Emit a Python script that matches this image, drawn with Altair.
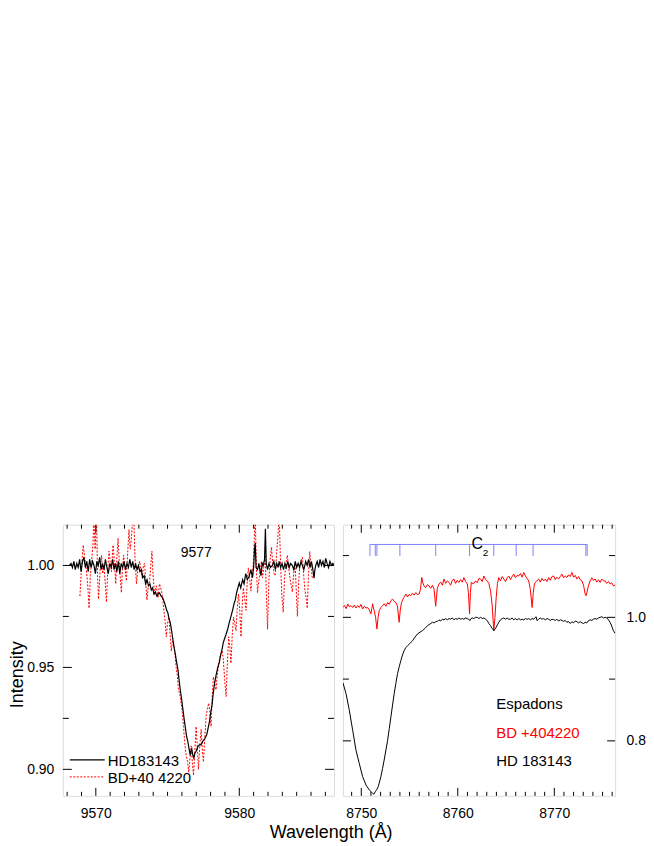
import altair as alt
import pandas as pd

FONT = "Liberation Sans"

# ---------------- Left panel: 9577 DIB ----------------
hd_l_wl = [9568.17, 9568.27, 9568.37, 9568.47, 9568.57, 9568.67, 9568.77, 9568.87, 9568.97, 9569.07,
           9569.17, 9569.27, 9569.37, 9569.47, 9569.57, 9569.67, 9569.77, 9569.87, 9569.97, 9570.07,
           9570.17, 9570.27, 9570.37, 9570.47, 9570.57, 9570.67, 9570.77, 9570.87, 9570.97, 9571.07,
           9571.17, 9571.27, 9571.37, 9571.47, 9571.57, 9571.67, 9571.77, 9571.87, 9571.97, 9572.07,
           9572.17, 9572.27, 9572.37, 9572.47, 9572.57, 9572.67, 9572.77, 9572.87, 9572.97, 9573.07,
           9573.17, 9573.27, 9573.37, 9573.47, 9573.57, 9573.67, 9573.77, 9573.87, 9573.96, 9574.05,
           9574.15, 9574.25, 9574.35, 9574.44, 9574.55, 9574.67, 9574.77, 9574.86, 9574.94, 9575.02,
           9575.10, 9575.19, 9575.28, 9575.37, 9575.45, 9575.53, 9575.62, 9575.72, 9575.80, 9575.88,
           9575.97, 9576.06, 9576.15, 9576.25, 9576.33, 9576.41, 9576.50, 9576.58, 9576.63, 9576.69,
           9576.76, 9576.83, 9576.91, 9576.99, 9577.10, 9577.22, 9577.33, 9577.45, 9577.59, 9577.73,
           9577.82, 9577.92, 9578.01, 9578.10, 9578.18, 9578.26, 9578.38, 9578.50, 9578.61, 9578.70,
           9578.80, 9578.88, 9578.96, 9579.07, 9579.19, 9579.30, 9579.42, 9579.53, 9579.65, 9579.72,
           9579.81, 9579.90, 9580.00, 9580.10, 9580.23, 9580.33, 9580.45, 9580.56, 9580.69, 9580.81,
           9580.92, 9581.00, 9581.06, 9581.11, 9581.17, 9581.27, 9581.37, 9581.45, 9581.51, 9581.60,
           9581.67, 9581.76, 9581.82, 9581.88, 9581.97, 9582.07, 9582.17, 9582.31, 9582.41, 9582.51,
           9582.61, 9582.71, 9582.78, 9582.88, 9582.98, 9583.08, 9583.18, 9583.28, 9583.38, 9583.48,
           9583.58, 9583.70, 9583.80, 9583.90, 9584.00, 9584.10, 9584.20, 9584.30, 9584.40, 9584.50,
           9584.63, 9584.73, 9584.83, 9584.93, 9585.03, 9585.13, 9585.21, 9585.27, 9585.33, 9585.43,
           9585.53, 9585.63, 9585.73, 9585.83, 9585.93, 9586.02, 9586.12, 9586.22, 9586.32, 9586.42,
           9586.52, 9586.60]
hd_l_i = [1.000, 1.001, 0.999, 1.002, 0.998, 1.001, 0.999, 1.003, 0.997, 1.002,
          1.004, 0.999, 1.002, 0.997, 1.003, 0.999, 1.002, 1.000, 0.996, 1.002,
          1.000, 1.004, 0.998, 1.001, 0.998, 1.003, 0.999, 0.996, 1.001, 0.999,
          1.003, 0.998, 1.001, 0.997, 1.002, 0.996, 1.001, 0.999, 1.002, 0.998,
          1.001, 0.999, 1.003, 0.999, 1.002, 0.998, 1.001, 0.998, 1.000, 0.997,
          0.998, 0.994, 0.995, 0.991, 0.993, 0.990, 0.991, 0.988, 0.989, 0.986,
          0.987, 0.985, 0.986, 0.9865, 0.985, 0.984, 0.982, 0.980, 0.978, 0.9768,
          0.974, 0.972, 0.968, 0.9638, 0.960, 0.957, 0.953, 0.949, 0.944, 0.9393,
          0.935, 0.930, 0.925, 0.920, 0.916, 0.9137, 0.910, 0.907, 0.909, 0.910,
          0.907, 0.9056, 0.908, 0.9089, 0.911, 0.912, 0.912, 0.9137, 0.915, 0.917,
          0.920, 0.9234, 0.928, 0.9316, 0.937, 0.9413, 0.9461, 0.950, 0.9526, 0.956,
          0.959, 0.962, 0.9638, 0.966, 0.9687, 0.972, 0.975, 0.978, 0.9816, 0.983,
          0.9865, 0.989, 0.9914, 0.989, 0.993, 0.991, 0.996, 0.993, 0.9947, 0.998,
          0.994, 0.999, 1.008, 1.011, 0.999, 0.998, 1.001, 0.997, 0.995, 1.001,
          1.000, 1.003, 1.018, 1.001, 0.998, 1.001, 0.999, 1.000, 1.002, 0.998,
          1.001, 0.999, 1.002, 0.999, 1.001, 0.998, 1.001, 0.999, 1.002, 0.999,
          1.001, 1.000, 0.998, 1.002, 0.999, 1.001, 0.999, 1.002, 1.000, 0.998,
          1.002, 1.000, 1.003, 0.999, 1.002, 0.998, 0.9938, 0.998, 1.000, 1.002,
          0.999, 1.003, 1.000, 1.002, 0.999, 1.0035, 1.001, 0.999, 1.002, 1.000,
          1.001, 1.000]

bd_l_wl = [9568.89, 9569.01, 9569.12, 9569.22, 9569.31, 9569.42, 9569.53, 9569.62, 9569.70, 9569.80,
           9569.86, 9569.95, 9570.05, 9570.12, 9570.19, 9570.30, 9570.40, 9570.48, 9570.56, 9570.65,
           9570.74, 9570.83, 9570.92, 9571.00, 9571.09, 9571.20, 9571.30, 9571.39, 9571.47, 9571.55,
           9571.66, 9571.78, 9571.86, 9571.94, 9572.03, 9572.13, 9572.22, 9572.31, 9572.40, 9572.48,
           9572.56, 9572.64, 9572.73, 9572.83, 9572.94, 9573.06, 9573.15, 9573.24, 9573.32, 9573.40,
           9573.48, 9573.56, 9573.66, 9573.75, 9573.83, 9573.91, 9574.00, 9574.10, 9574.22, 9574.33,
           9574.44, 9574.56, 9574.64, 9574.72, 9574.81, 9574.91, 9575.00, 9575.09, 9575.18, 9575.26,
           9575.34, 9575.42, 9575.51, 9575.60, 9575.68, 9575.76, 9575.85, 9575.95, 9576.03, 9576.11,
           9576.20, 9576.30, 9576.39, 9576.48, 9576.57, 9576.65, 9576.73, 9576.81, 9576.90, 9576.99,
           9577.07, 9577.15, 9577.25, 9577.34, 9577.42, 9577.50, 9577.60, 9577.69, 9577.78, 9577.87,
           9577.95, 9578.03, 9578.11, 9578.19, 9578.29, 9578.38, 9578.46, 9578.54, 9578.64, 9578.73,
           9578.81, 9578.89, 9578.98, 9579.08, 9579.17, 9579.26, 9579.34, 9579.42, 9579.51, 9579.60,
           9579.68, 9579.77, 9579.86, 9579.95, 9580.03, 9580.12, 9580.20, 9580.28, 9580.37, 9580.47,
           9580.55, 9580.63, 9580.72, 9580.81, 9580.89, 9580.97, 9581.04, 9581.11, 9581.19, 9581.27,
           9581.37, 9581.46, 9581.54, 9581.62, 9581.71, 9581.81, 9581.89, 9581.97, 9582.06, 9582.15,
           9582.24, 9582.33, 9582.42, 9582.50, 9582.60, 9582.70, 9582.78, 9582.88, 9582.97, 9583.06,
           9583.15, 9583.25, 9583.35, 9583.44, 9583.53, 9583.62, 9583.70, 9583.79, 9583.89, 9583.97,
           9584.05, 9584.14, 9584.22, 9584.31, 9584.40, 9584.48, 9584.57, 9584.66, 9584.74, 9584.82,
           9584.91, 9585.00, 9585.09]
bd_l_i = [0.985, 1.000, 1.010, 1.004, 1.000, 0.992, 0.979, 0.995, 1.002, 1.010,
          1.025, 1.008, 1.025, 0.995, 0.9835, 0.998, 1.005, 0.996, 1.000, 0.992,
          0.982, 0.998, 1.007, 1.002, 0.997, 1.010, 1.001, 0.991, 1.004, 1.0134,
          0.998, 0.9867, 0.999, 1.005, 0.999, 0.9924, 1.006, 1.0176, 1.008, 1.013,
          1.022, 1.025, 1.004, 0.991, 0.999, 1.002, 0.997, 0.994, 1.000, 1.001,
          0.992, 0.983, 0.990, 0.992, 1.000, 1.007, 0.994, 0.9857, 0.990, 0.984,
          0.991, 0.988, 0.985, 0.9794, 0.974, 0.965, 0.972, 0.9746, 0.966, 0.958,
          0.963, 0.9617, 0.957, 0.950, 0.946, 0.939, 0.937, 0.9325, 0.928, 0.921,
          0.913, 0.9066, 0.904, 0.8985, 0.906, 0.9115, 0.903, 0.897, 0.909, 0.921,
          0.912, 0.900, 0.912, 0.9196, 0.910, 0.9036, 0.916, 0.926, 0.930, 0.9325,
          0.928, 0.921, 0.935, 0.9454, 0.942, 0.939, 0.946, 0.950, 0.955, 0.9568,
          0.958, 0.9535, 0.944, 0.9357, 0.952, 0.965, 0.960, 0.952, 0.966, 0.9746,
          0.972, 0.968, 0.979, 0.986, 0.978, 0.965, 0.980, 0.989, 0.984, 0.978,
          0.992, 0.9988, 0.994, 0.9875, 0.996, 1.000, 1.012, 1.025, 0.999, 0.9866,
          0.993, 0.997, 1.002, 0.994, 0.999, 1.005, 0.985, 0.9687, 0.992, 1.003,
          1.009, 1.001, 0.996, 0.995, 1.006, 1.015, 1.025, 1.000, 0.985, 0.977,
          0.993, 1.001, 1.005, 0.999, 0.994, 0.990, 0.987, 0.996, 1.001, 0.988,
          0.975, 0.992, 1.000, 1.002, 1.004, 0.996, 0.988, 0.984, 0.979, 0.995,
          1.0068, 1.000, 0.9938]

# ---------------- Right panel: Espadons, 8750-8776 A ----------------
hd_r_wl = [8748.10, 8748.42, 8748.76, 8749.11, 8749.45, 8749.79, 8750.14, 8750.49, 8750.83, 8751.18,
           8751.30, 8751.45, 8751.60, 8751.76, 8752.03, 8752.20, 8752.37, 8752.55, 8752.73, 8752.90,
           8753.07, 8753.24, 8753.41, 8753.58, 8753.76, 8753.93, 8754.10, 8754.27, 8754.44, 8754.61,
           8754.79, 8755.05, 8755.31, 8755.56, 8755.82, 8756.08, 8756.34, 8756.60, 8756.86, 8757.11,
           8757.37, 8757.54, 8757.71, 8757.89, 8758.05, 8758.23, 8758.40, 8758.57, 8758.75, 8758.92,
           8759.09, 8759.26, 8759.43, 8759.60, 8759.78, 8759.95, 8760.12, 8760.29, 8760.46, 8760.63,
           8760.80, 8760.97, 8761.13, 8761.25, 8761.37, 8761.50, 8761.67, 8761.84, 8762.02, 8762.19,
           8762.36, 8762.53, 8762.70, 8762.88, 8763.05, 8763.22, 8763.39, 8763.56, 8763.73, 8763.85,
           8763.98, 8764.11, 8764.25, 8764.42, 8764.60, 8764.77, 8764.94, 8765.11, 8765.28, 8765.46,
           8765.63, 8765.80, 8765.97, 8766.15, 8766.32, 8766.49, 8766.66, 8766.83, 8767.00, 8767.18,
           8767.35, 8767.52, 8767.70, 8767.87, 8768.04, 8768.12, 8768.21, 8768.38, 8768.55, 8768.72,
           8768.90, 8769.07, 8769.24, 8769.41, 8769.58, 8769.76, 8769.93, 8770.10, 8770.27, 8770.44,
           8770.62, 8770.79, 8770.96, 8771.13, 8771.30, 8771.48, 8771.65, 8771.82, 8771.99, 8772.17,
           8772.34, 8772.51, 8772.68, 8772.86, 8773.03, 8773.20, 8773.37, 8773.54, 8773.71, 8773.89,
           8774.06, 8774.23, 8774.40, 8774.58, 8774.75, 8774.93, 8775.10, 8775.27, 8775.44, 8775.61,
           8775.78, 8775.95, 8776.12, 8776.30]
hd_r_i = [0.894, 0.8765, 0.8495, 0.817, 0.785, 0.7635, 0.742, 0.7285, 0.7205, 0.7152,
          0.7135, 0.7177, 0.721, 0.726, 0.742, 0.755, 0.769, 0.785, 0.801, 0.820,
          0.839, 0.858, 0.8765, 0.893, 0.909, 0.920, 0.930, 0.939, 0.946, 0.951,
          0.954, 0.958, 0.962, 0.968, 0.973, 0.976, 0.9785, 0.982, 0.9866, 0.989,
          0.992, 0.991, 0.993, 0.9935, 0.996, 0.994, 0.997, 0.9958, 0.998, 0.996,
          0.998, 0.997, 0.999, 0.996, 0.998, 0.9968, 0.999, 0.997, 0.998, 0.997,
          0.999, 0.998, 0.997, 0.9947, 0.998, 0.999, 0.998, 1.000, 1.000, 0.998,
          1.000, 0.998, 0.999, 0.997, 0.9947, 0.990, 0.9866, 0.982, 0.9785, 0.981,
          0.984, 0.988, 0.992, 0.996, 0.998, 0.999, 0.997, 0.999, 0.997, 0.997,
          0.999, 0.996, 0.998, 0.9958, 0.998, 0.996, 0.997, 0.9958, 0.998, 0.9968,
          0.998, 0.996, 0.998, 0.997, 1.000, 1.001, 0.9947, 0.997, 0.999, 0.997,
          0.998, 0.996, 0.998, 0.997, 0.995, 0.997, 0.9963, 0.995, 0.997, 0.994,
          0.996, 0.995, 0.9935, 0.995, 0.992, 0.993, 0.990, 0.993, 0.991, 0.994,
          0.993, 0.991, 0.993, 0.991, 0.990, 0.992, 0.991, 0.9947, 0.996, 0.995,
          0.997, 0.998, 0.997, 0.999, 1.000, 1.001, 0.999, 1.000, 0.999, 0.996,
          0.992, 0.986, 0.9785, 0.974]

bd_r_wl = [8748.10, 8748.26, 8748.43, 8748.60, 8748.77, 8748.94, 8749.11, 8749.28, 8749.45, 8749.63,
           8749.80, 8749.97, 8750.14, 8750.31, 8750.49, 8750.66, 8750.83, 8751.00, 8751.09, 8751.18,
           8751.26, 8751.34, 8751.48, 8751.62, 8751.74, 8751.86, 8752.03, 8752.21, 8752.38, 8752.55,
           8752.73, 8752.90, 8753.07, 8753.24, 8753.41, 8753.58, 8753.75, 8753.92, 8754.04, 8754.17,
           8754.34, 8754.48, 8754.62, 8754.79, 8754.96, 8755.13, 8755.30, 8755.47, 8755.65, 8755.82,
           8755.99, 8756.13, 8756.27, 8756.38, 8756.50, 8756.67, 8756.85, 8757.02, 8757.19, 8757.37,
           8757.54, 8757.71, 8757.88, 8758.05, 8758.22, 8758.40, 8758.57, 8758.74, 8758.92, 8759.09,
           8759.26, 8759.43, 8759.60, 8759.77, 8759.95, 8760.12, 8760.29, 8760.46, 8760.63, 8760.81,
           8760.99, 8761.10, 8761.22, 8761.31, 8761.40, 8761.62, 8761.84, 8762.02, 8762.19, 8762.36,
           8762.53, 8762.70, 8762.88, 8763.05, 8763.22, 8763.39, 8763.56, 8763.73, 8763.85, 8763.98,
           8764.11, 8764.25, 8764.42, 8764.60, 8764.77, 8764.94, 8765.11, 8765.28, 8765.46, 8765.63,
           8765.80, 8765.97, 8766.15, 8766.31, 8766.49, 8766.66, 8766.83, 8767.01, 8767.18, 8767.35,
           8767.52, 8767.70, 8767.82, 8767.94, 8768.11, 8768.38, 8768.55, 8768.72, 8768.90, 8769.07,
           8769.24, 8769.41, 8769.58, 8769.76, 8769.93, 8770.10, 8770.27, 8770.44, 8770.62, 8770.79,
           8770.96, 8771.13, 8771.31, 8771.48, 8771.65, 8771.83, 8772.00, 8772.17, 8772.34, 8772.51,
           8772.68, 8772.86, 8773.03, 8773.20, 8773.29, 8773.38, 8773.55, 8773.72, 8773.89, 8774.06,
           8774.23, 8774.40, 8774.58, 8774.75, 8774.92, 8775.10, 8775.27, 8775.44, 8775.61, 8775.78,
           8775.95, 8776.12, 8776.30]
bd_r_i = [1.016, 1.019, 1.014, 1.0216, 1.017, 1.019, 1.016, 1.020, 1.015, 1.019,
          1.016, 1.021, 1.0135, 1.018, 1.015, 1.016, 1.012, 1.0055, 1.014, 1.022,
          1.015, 1.011, 1.000, 0.981, 1.000, 1.011, 1.016, 1.019, 1.022, 1.018,
          1.024, 1.021, 1.027, 1.0296, 1.026, 1.024, 1.018, 0.992, 1.012, 1.024,
          1.030, 1.034, 1.0377, 1.033, 1.037, 1.035, 1.039, 1.036, 1.040, 1.037,
          1.0377, 1.045, 1.0645, 1.056, 1.051, 1.048, 1.053, 1.051, 1.047, 1.052,
          1.0457, 1.018, 1.047, 1.054, 1.057, 1.052, 1.062, 1.055, 1.059, 1.0565,
          1.052, 1.060, 1.062, 1.055, 1.060, 1.0565, 1.061, 1.057, 1.0645, 1.058,
          1.054, 1.040, 1.0055, 1.040, 1.0565, 1.054, 1.059, 1.056, 1.063, 1.062,
          1.058, 1.067, 1.061, 1.059, 1.055, 1.043, 1.020, 0.9785, 1.000, 1.032,
          1.055, 1.0645, 1.059, 1.066, 1.062, 1.058, 1.064, 1.067, 1.061, 1.066,
          1.070, 1.064, 1.068, 1.067, 1.071, 1.065, 1.0726, 1.067, 1.063, 1.059,
          1.045, 1.016, 1.040, 1.054, 1.058, 1.062, 1.057, 1.063, 1.059, 1.062,
          1.058, 1.0645, 1.060, 1.066, 1.067, 1.061, 1.065, 1.062, 1.066, 1.070,
          1.064, 1.067, 1.0645, 1.069, 1.066, 1.0726, 1.065, 1.068, 1.062, 1.066,
          1.061, 1.059, 1.052, 1.0377, 1.035, 1.040, 1.052, 1.059, 1.064, 1.060,
          1.062, 1.057, 1.061, 1.0565, 1.062, 1.059, 1.059, 1.055, 1.058, 1.054,
          1.056, 1.051, 1.052]

# C2 line identifications (wavelengths) and the marker's vertical extent
c2_lines = [8750.90, 8751.45, 8751.62, 8754.00, 8757.71, 8761.22, 8763.73, 8766.05, 8767.80, 8773.27, 8773.41]
c2_top = 1.118
c2_bottom = 1.0995

# Axis ticks and labels
left_x_minor = [9568, 9569, 9571, 9572, 9573, 9574, 9575, 9576, 9577, 9578, 9579, 9581, 9582, 9583, 9584, 9585, 9586]
left_x_major = [9570, 9580]
left_y_minor = [0.925, 0.975]
left_y_major = [0.90, 0.95, 1.00]
right_x_minor = [8749, 8751, 8752, 8753, 8754, 8755, 8756, 8757, 8758, 8759, 8761, 8762, 8763, 8764,
                 8765, 8766, 8767, 8768, 8769, 8771, 8772, 8773, 8774, 8775, 8776]
right_x_major = [8750, 8760, 8770]
right_y_minor = [0.9, 1.1]
right_y_major = [0.8, 1.0]

left_x_domain = [9567.7, 9586.6]
left_y_domain = [0.887, 1.02]
right_x_domain = [8748.1, 8776.3]
right_y_domain = [0.711, 1.15]

stars_left = ["HD183143", "BD+40 4220"]
notes_right = ["Espadons", "BD +404220", "HD 183143"]
notes_right_color = ["black", "red", "black"]
notes_right_wl = [8763.98, 8763.98, 8763.98]
notes_right_i = [0.859, 0.813, 0.768]

W_L, W_R, H = 272, 273, 272


def inner_ticks(xminor, xmajor, yminor, ymajor, xs, ys, xa, ya, W, Hh, xlen=(4, 8), ylen=(6, 9)):
    layers = []
    for vals, L in ((xminor, xlen[0]), (xmajor, xlen[1])):
        base = alt.Chart(pd.DataFrame({"wl": vals})).mark_rule(color="black", strokeWidth=1)
        xenc = alt.X("wl:Q", scale=xs, axis=xa)
        layers.append(base.encode(x=xenc, y=alt.value(Hh), y2=alt.value(Hh - L)))
        layers.append(base.encode(x=xenc, y=alt.value(0), y2=alt.value(L)))
    for vals, L in ((yminor, ylen[0]), (ymajor, ylen[1])):
        base = alt.Chart(pd.DataFrame({"I": vals})).mark_rule(color="black", strokeWidth=1)
        yenc = alt.Y("I:Q", scale=ys, axis=ya)
        layers.append(base.encode(y=yenc, x=alt.value(0), x2=alt.value(L)))
        layers.append(base.encode(y=yenc, x=alt.value(W), x2=alt.value(W - L)))
    return layers


# ---------- left panel ----------
xl = alt.Scale(domain=left_x_domain, nice=False, zero=False)
yl = alt.Scale(domain=left_y_domain, nice=False, zero=False)

xl_axis = alt.Axis(values=left_x_major, format="d", title=None, ticks=False, domain=False, grid=False,
                   labelFont=FONT, labelFontSize=14, labelColor="black", labelPadding=11)
yl_axis = alt.Axis(values=left_y_major, format=".2f", title="Intensity", ticks=False, domain=False, grid=False,
                   labelFont=FONT, labelFontSize=14, labelColor="black", labelPadding=9,
                   titleFont=FONT, titleFontSize=18, titleFontWeight="normal", titleColor="black",
                   titlePadding=0, titleY=150)

XL = alt.X("wl:Q", scale=xl, axis=xl_axis)
YL = alt.Y("I:Q", scale=yl, axis=yl_axis)

hd_l_df = pd.DataFrame({"wl": hd_l_wl, "I": hd_l_i})
bd_l_df = pd.DataFrame({"wl": bd_l_wl, "I": bd_l_i})

red_l = alt.Chart(bd_l_df).mark_line(color="red", strokeWidth=1, strokeDash=[2, 1.5], clip=True).encode(
    x=XL, y=YL, order="wl:Q")
black_l = alt.Chart(hd_l_df).mark_line(color="black", strokeWidth=1.2, clip=True).encode(
    x=XL, y=YL, order="wl:Q")
label_l = alt.Chart(pd.DataFrame({"wl": [9577.0], "I": [1.0061], "txt": ["9577"]})).mark_text(
    font=FONT, fontSize=14, color="black", align="center", baseline="middle").encode(
    x=XL, y=YL, text="txt:N")

# legend drawn inside the panel (bottom-left)
leg_df = pd.DataFrame({"txt": stars_left})
leg_black_line = alt.Chart(leg_df.iloc[:1]).mark_rule(color="black", strokeWidth=1.2).encode(
    x=alt.value(7), x2=alt.value(42), y=alt.value(236))
leg_red_line = alt.Chart(leg_df.iloc[1:]).mark_rule(color="red", strokeWidth=1, strokeDash=[2, 1.5]).encode(
    x=alt.value(7), x2=alt.value(42), y=alt.value(253))
leg_black_txt = alt.Chart(leg_df.iloc[:1]).mark_text(
    font=FONT, fontSize=15, color="black", align="left", baseline="middle").encode(
    x=alt.value(45), y=alt.value(237), text="txt:N")
leg_red_txt = alt.Chart(leg_df.iloc[1:]).mark_text(
    font=FONT, fontSize=15, color="black", align="left", baseline="middle").encode(
    x=alt.value(45), y=alt.value(254), text="txt:N")

left = alt.layer(red_l, black_l, label_l, leg_black_line, leg_red_line, leg_black_txt, leg_red_txt,
                 *inner_ticks(left_x_minor, left_x_major, left_y_minor, left_y_major, xl, yl,
                              xl_axis, yl_axis, W_L, H)
                 ).properties(width=W_L, height=H)

# ---------- right panel ----------
xr = alt.Scale(domain=right_x_domain, nice=False, zero=False)
yr = alt.Scale(domain=right_y_domain, nice=False, zero=False)

xr_axis = alt.Axis(values=right_x_major, format="d", title=None, ticks=False, domain=False, grid=False,
                   labelFont=FONT, labelFontSize=14, labelColor="black", labelPadding=11)
yr_axis = alt.Axis(values=right_y_major, format=".1f", title=None, orient="right", ticks=False, domain=False,
                   grid=False, labelFont=FONT, labelFontSize=14, labelColor="black", labelPadding=11)

XR = alt.X("wl:Q", scale=xr, axis=xr_axis)
YR = alt.Y("I:Q", scale=yr, axis=yr_axis)

bd_r_df = pd.DataFrame({"wl": bd_r_wl, "I": bd_r_i})
hd_r_df = pd.DataFrame({"wl": hd_r_wl, "I": hd_r_i})

red_r = alt.Chart(bd_r_df).mark_line(color="red", strokeWidth=1, clip=True).encode(x=XR, y=YR, order="wl:Q")
black_r = alt.Chart(hd_r_df).mark_line(color="black", strokeWidth=1, clip=True).encode(x=XR, y=YR, order="wl:Q")

c2_df = pd.DataFrame({"wl": c2_lines, "I": c2_top, "bot": c2_bottom})
c2_ticks = alt.Chart(c2_df).mark_rule(color="#7f7fff", strokeWidth=1).encode(x=XR, y=YR, y2="bot:Q")
c2_bar = alt.Chart(pd.DataFrame({"wl": [min(c2_lines)], "b": [max(c2_lines)], "I": [c2_top]})).mark_rule(
    color="#7f7fff", strokeWidth=1).encode(x=XR, x2="b:Q", y=YR)
c2_label = alt.Chart(pd.DataFrame({"wl": [8762.02], "I": [1.118], "txt": ["C"]})).mark_text(
    font=FONT, fontSize=16, color="black", align="center", baseline="middle").encode(x=XR, y=YR, text="txt:N")
c2_sub = alt.Chart(pd.DataFrame({"wl": [8762.88], "I": [1.1045], "txt": ["2"]})).mark_text(
    font=FONT, fontSize=10, color="black", align="center", baseline="middle").encode(x=XR, y=YR, text="txt:N")

notes_df = pd.DataFrame({"wl": notes_right_wl, "I": notes_right_i, "txt": notes_right, "col": notes_right_color})
notes = alt.Chart(notes_df).mark_text(font=FONT, fontSize=15, align="left", baseline="middle").encode(
    x=XR, y=YR, text="txt:N", color=alt.Color("col:N", scale=None, legend=None))

right = alt.layer(red_r, black_r, c2_bar, c2_ticks, c2_label, c2_sub, notes,
                  *inner_ticks(right_x_minor, right_x_major, right_y_minor, right_y_major, xr, yr,
                               xr_axis, yr_axis, W_R, H, xlen=(4, 8), ylen=(6, 8))
                  ).properties(width=W_R, height=H)

chart = alt.hconcat(left, right, spacing=7).properties(
    padding={"left": 0, "top": 516, "right": 0, "bottom": 0},
    title=alt.TitleParams("Wavelength (Å)", orient="bottom", anchor="middle", fontSize=18,
                          fontWeight="normal", font=FONT, color="black", offset=3, dx=4),
).configure_view(stroke="black", strokeWidth=1).configure(font=FONT, background="white")

chart.save("out.html", embed_options={"renderer": "svg", "actions": False})
